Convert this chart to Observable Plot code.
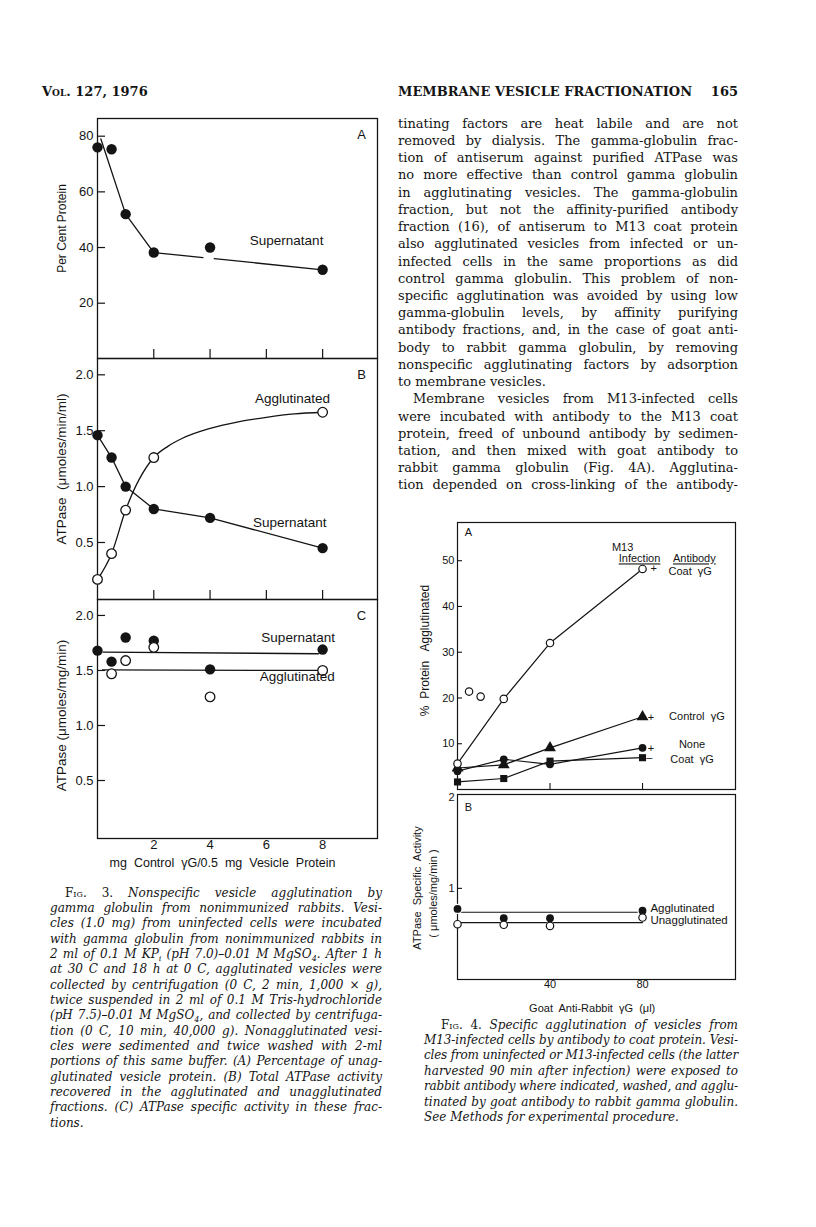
<!DOCTYPE html>
<html><head><meta charset="utf-8">
<script src="https://cdn.jsdelivr.net/npm/d3@7"></script>
<script src="https://cdn.jsdelivr.net/npm/@observablehq/plot@0.6"></script>
<style>
html,body{margin:0;padding:0;background:#fff}
body{width:816px;height:1227px;position:relative;overflow:hidden;color:#141414;font-family:"DejaVu Serif",serif}
.chart{position:absolute}
.line{position:absolute;white-space:nowrap;text-align:justify;text-align-last:justify}
.body{font-size:13px;line-height:17px}
.cap{font-size:12px;line-height:15px;font-style:italic}
.fig{font-style:normal;font-variant:small-caps}
.hdr{position:absolute;white-space:nowrap;font-size:13px;line-height:16px;font-weight:bold}
</style></head><body>
<script>
// ---------- Fig. 3 data ----------
const fig3Doses = [0, 0.5, 1, 2, 4, 8];
const fig3ASupernatant = [76, 75.3, 52, 38.2, 40, 32];
const fig3AFitX = [0.12, 1, 2, 3.75, 4.15, 8];
const fig3AFitY = [79, 52, 38.2, 36.4, 36.0, 32];
const fig3AFitSeg = [0, 0, 0, 0, 1, 1];
const fig3BSupernatant = [1.46, 1.26, 1.0, 0.80, 0.72, 0.45];
const fig3BAggDoses = [0, 0.5, 1, 2, 8];
const fig3BAgglutinated = [0.17, 0.40, 0.79, 1.26, 1.665];
const fig3BAggCurveX = [0, 0.5, 1, 2, 2.5, 3, 4, 5, 6, 7, 8];
const fig3BAggCurveY = [0.17, 0.40, 0.79, 1.26, 1.36, 1.43, 1.52, 1.58, 1.62, 1.65, 1.665];
const fig3CSupernatant = [1.68, 1.58, 1.80, 1.77, 1.51, 1.69];
const fig3CAggDoses = [0.5, 1, 2, 4, 8];
const fig3CAgglutinated = [1.47, 1.59, 1.71, 1.26, 1.50];
const fig3CSupFitX = [0.2, 7.85];
const fig3CSupFitY = [1.667, 1.652];
const fig3CAggFitX = [0.18, 8];
const fig3CAggFitY = [1.505, 1.50];
const fig3XTicks = [2, 4, 6, 8];
const fig3ATicks = [20, 40, 60, 80];
const fig3BCTicks = [0.5, 1.0, 1.5, 2.0];

// ---------- Fig. 4 data ----------
const fig4Doses = [0, 20, 40, 80];
const fig4CoatInfected = [5.65, 19.8, 32.0, 48.2];
const fig4ExtraX = [5, 10];
const fig4ExtraY = [21.4, 20.3];
const fig4ControlInfected = [4.7, 5.4, 9.1, 15.9];
const fig4NoneInfected = [4.0, 6.6, 5.5, 9.1];
const fig4CoatUninfected = [1.65, 2.4, 6.2, 6.95];
const fig4BAgglutinated = [0.774, 0.672, 0.672, 0.755];
const fig4BUnagglutinated = [0.607, 0.600, 0.588, 0.680];
const fig4BLineX = [0, 80];
const fig4BAggLine = [0.738, 0.738];
const fig4BUnaggLine = [0.625, 0.625];
const fig4XTicks = [40, 80];
const fig4ATicks = [10, 20, 30, 40, 50];
const fig4BTicks = [1, 2];

// annotation labels (data units)
const fig3ALabels = [{x: 6.72, y: 42.5, t: "Supernatant"}];
const fig3BLabels = [{x: 6.93, y: 1.785, t: "Agglutinated"}, {x: 6.83, y: 0.68, t: "Supernatant"}];
const fig3CLabels = [{x: 7.13, y: 1.80, t: "Supernatant"}, {x: 7.1, y: 1.44, t: "Agglutinated"}];
const fig4ALabels = [
  {x: 71.4, y: 52.9, t: "M13"}, {x: 78.7, y: 50.4, t: "Infection"}, {x: 102.4, y: 50.4, t: "Antibody"},
  {x: 84.8, y: 48.3, t: "+"}, {x: 100.6, y: 47.6, t: "Coat  γG"},
  {x: 83.6, y: 15.8, t: "+"}, {x: 103.5, y: 15.95, t: "Control  γG"},
  {x: 83.6, y: 9.0, t: "+"}, {x: 101.4, y: 9.8, t: "None"},
  {x: 82.9, y: 6.9, t: "–"}, {x: 101.4, y: 6.6, t: "Coat  γG"}
];
const fig4BLabels = [{x: 83.4, y: 0.78, t: "Agglutinated"}, {x: 83.4, y: 0.65, t: "Unagglutinated"}];

const ink = "#141414";
const sans = "'Liberation Sans', Arial, sans-serif";
const zip = (xs, ys) => xs.map((x, i) => ({x, y: ys[i]}));

function place(svg, left, top) {
  svg.classList.add("chart");
  svg.style.left = left + "px";
  svg.style.top = top + "px";
  document.body.appendChild(svg);
  return svg;
}

// ---------- Fig. 3 panels ----------
function fig3Panel({top, height, mb, yDomain, ticks, fmt, xTicksInside, marks}) {
  const plotH = height - 18 - mb;
  const plotW = 400 - 97 - 23;
  return place(Plot.plot({
    width: 400, height, marginLeft: 97, marginRight: 23, marginTop: 18, marginBottom: mb,
    x: {domain: [0, 9.95], axis: null},
    y: {domain: yDomain, axis: null},
    style: {fontFamily: sans, color: ink, background: "transparent", overflow: "visible"},
    marks: [
      Plot.frame({stroke: ink, strokeWidth: 1.3}),
      Plot.tickY(ticks, {y: d => d, insetRight: plotW - 8, stroke: ink, strokeWidth: 1.2}),
      Plot.axisY(ticks, {label: null, tickSize: 0, tickPadding: 4, tickFormat: fmt, fontSize: 13, fill: ink}),
      xTicksInside ? Plot.tickX(fig3XTicks, {x: d => d, insetTop: plotH - 9, stroke: ink, strokeWidth: 1.2}) : null,
      ...marks
    ]
  }), 0, top);
}

const dotFilled3 = {x: "x", y: "y", r: 5.2, fill: ink};
const dotOpen3 = {x: "x", y: "y", r: 4.8, fill: "white", stroke: ink, strokeWidth: 1.3};
const lbl3 = {x: "x", y: "y", text: "t", fontSize: 13.5, fill: ink};

fig3Panel({
  top: 100, height: 260, mb: 2, yDomain: [0.13, 86.36], ticks: fig3ATicks, fmt: d => String(d), xTicksInside: true,
  marks: [
    Plot.line(fig3AFitX.map((x, i) => ({x, y: fig3AFitY[i], seg: fig3AFitSeg[i]})), {x: "x", y: "y", z: "seg", stroke: ink, strokeWidth: 1.3}),
    Plot.dot(zip(fig3Doses, fig3ASupernatant), dotFilled3),
    Plot.text(fig3ALabels, lbl3),
    Plot.text(["A"], {frameAnchor: "top-right", dx: -16, dy: 16, textAnchor: "middle", lineAnchor: "middle", fontSize: 13, fill: ink}),
    Plot.text(["Per Cent Protein"], {frameAnchor: "left", rotate: -90, dx: -35.6, dy: -10, textAnchor: "middle", lineAnchor: "middle", fontSize: 12, fill: ink})
  ]
});

fig3Panel({
  top: 340, height: 261, mb: 2, yDomain: [-0.01, 2.146], ticks: fig3BCTicks, fmt: d => d.toFixed(1), xTicksInside: true,
  marks: [
    Plot.line(zip(fig3Doses, fig3BSupernatant), {x: "x", y: "y", stroke: ink, strokeWidth: 1.3}),
    Plot.line(zip(fig3BAggCurveX, fig3BAggCurveY), {x: "x", y: "y", curve: "monotone-x", stroke: ink, strokeWidth: 1.3}),
    Plot.dot(zip(fig3Doses, fig3BSupernatant), dotFilled3),
    Plot.dot(zip(fig3BAggDoses, fig3BAgglutinated), dotOpen3),
    Plot.text(fig3BLabels, lbl3),
    Plot.text(["B"], {frameAnchor: "top-right", dx: -16, dy: 16, textAnchor: "middle", lineAnchor: "middle", fontSize: 13, fill: ink}),
    Plot.text(["ATPase  (μmoles/min/ml)"], {frameAnchor: "left", rotate: -90, dx: -35.6, dy: -10, textAnchor: "middle", lineAnchor: "middle", fontSize: 13.5, fill: ink})
  ]
});

fig3Panel({
  top: 581, height: 297, mb: 40, yDomain: [-0.027, 2.145], ticks: fig3BCTicks, fmt: d => d.toFixed(1), xTicksInside: false,
  marks: [
    Plot.line(zip(fig3CSupFitX, fig3CSupFitY), {x: "x", y: "y", stroke: ink, strokeWidth: 1.3}),
    Plot.line(zip(fig3CAggFitX, fig3CAggFitY), {x: "x", y: "y", stroke: ink, strokeWidth: 1.3}),
    Plot.dot(zip(fig3Doses, fig3CSupernatant), dotFilled3),
    Plot.dot(zip(fig3CAggDoses, fig3CAgglutinated), dotOpen3),
    Plot.text(fig3CLabels, lbl3),
    Plot.axisX(fig3XTicks, {label: null, tickSize: 0, tickPadding: 1, fontSize: 13, fill: ink}),
    Plot.text(["C"], {frameAnchor: "top-right", dx: -16, dy: 16, textAnchor: "middle", lineAnchor: "middle", fontSize: 13, fill: ink}),
    Plot.text(["ATPase (μmoles/mg/min)"], {frameAnchor: "left", rotate: -90, dx: -35.6, dy: -3.5, textAnchor: "middle", lineAnchor: "middle", fontSize: 13.5, fill: ink}),
    Plot.text(["mg  Control  γG/0.5  mg  Vesicle  Protein"], {frameAnchor: "bottom", dx: -15, dy: 24, textAnchor: "middle", lineAnchor: "middle", fontSize: 12.5, fill: ink})
  ]
});

// ---------- Fig. 4 panels ----------
const f4PlotW = 416 - 57 - 81;
const lbl4 = {x: "x", y: "y", text: "t", fontSize: 11, fill: ink};

const svg4A = place(Plot.plot({
  width: 416, height: 287, marginLeft: 57, marginRight: 81, marginTop: 17, marginBottom: 3,
  x: {domain: [0, 120.2], axis: null},
  y: {domain: [0, 58.35], axis: null},
  style: {fontFamily: sans, color: ink, background: "transparent", overflow: "visible"},
  marks: [
    Plot.frame({stroke: ink, strokeWidth: 1.2}),
    Plot.tickY(fig4ATicks, {y: d => d, insetRight: f4PlotW - 5, stroke: ink, strokeWidth: 1.1}),
    Plot.axisY(fig4ATicks, {label: null, tickSize: 0, tickPadding: 3, tickFormat: d => String(d), fontSize: 11, fill: ink}),
    Plot.tickX(fig4XTicks, {x: d => d, insetTop: 267 - 6, stroke: ink, strokeWidth: 1.1}),
    Plot.line(zip(fig4Doses, fig4CoatInfected), {x: "x", y: "y", stroke: ink, strokeWidth: 1.2}),
    Plot.line(zip(fig4Doses, fig4ControlInfected), {x: "x", y: "y", stroke: ink, strokeWidth: 1.2}),
    Plot.line(zip(fig4Doses, fig4NoneInfected), {x: "x", y: "y", stroke: ink, strokeWidth: 1.2}),
    Plot.line(zip(fig4Doses, fig4CoatUninfected), {x: "x", y: "y", stroke: ink, strokeWidth: 1.2}),
    Plot.dot(zip(fig4Doses, fig4CoatUninfected), {x: "x", y: "y", symbol: "square", r: 4, fill: ink}),
    Plot.dot(zip(fig4Doses, fig4ControlInfected), {x: "x", y: "y", symbol: "triangle", r: 4.4, fill: ink}),
    Plot.dot(zip(fig4Doses, fig4NoneInfected), {x: "x", y: "y", r: 3.9, fill: ink}),
    Plot.dot(zip(fig4Doses, fig4CoatInfected), {x: "x", y: "y", r: 3.7, fill: "white", stroke: ink, strokeWidth: 1.2}),
    Plot.dot(zip(fig4ExtraX, fig4ExtraY), {x: "x", y: "y", r: 3.7, fill: "white", stroke: ink, strokeWidth: 1.2}),
    Plot.text(fig4ALabels, lbl4),
    Plot.text(["A"], {frameAnchor: "top-left", dx: 11, dy: 10, textAnchor: "middle", lineAnchor: "middle", fontSize: 11, fill: ink}),
    Plot.text(["%  Protein   Agglutinated"], {frameAnchor: "left", rotate: -90, dx: -32, dy: -5.5, textAnchor: "middle", lineAnchor: "middle", fontSize: 12, fill: ink})
  ]
}), 400, 505);
d3.select(svg4A).selectAll("text").filter(function () {
  return this.textContent === "Infection" || this.textContent === "Antibody";
}).style("text-decoration", "underline");

place(Plot.plot({
  width: 416, height: 242, marginLeft: 57, marginRight: 81, marginTop: 17, marginBottom: 40,
  x: {domain: [0, 120.2], axis: null},
  y: {domain: [0, 2.03], axis: null},
  style: {fontFamily: sans, color: ink, background: "transparent", overflow: "visible"},
  marks: [
    Plot.frame({stroke: ink, strokeWidth: 1.2}),
    Plot.tickY([1], {y: d => d, insetRight: f4PlotW - 5, stroke: ink, strokeWidth: 1.1}),
    Plot.axisY(fig4BTicks, {label: null, tickSize: 0, tickPadding: 3, tickFormat: d => String(d), fontSize: 11, fill: ink}),
    Plot.axisX(fig4XTicks, {label: null, tickSize: 0, tickPadding: 1, tickFormat: d => String(d), fontSize: 11, fill: ink}),
    Plot.line(zip(fig4BLineX, fig4BAggLine), {x: "x", y: "y", stroke: ink, strokeWidth: 1.2}),
    Plot.line(zip(fig4BLineX, fig4BUnaggLine), {x: "x", y: "y", stroke: ink, strokeWidth: 1.2}),
    Plot.dot(zip(fig4Doses, fig4BAgglutinated), {x: "x", y: "y", r: 3.9, fill: ink, stroke: "white", strokeWidth: 2.5, paintOrder: "stroke"}),
    Plot.dot(zip(fig4Doses, fig4BUnagglutinated), {x: "x", y: "y", r: 3.7, fill: "white", stroke: ink, strokeWidth: 1.2}),
    Plot.text(fig4BLabels, {...lbl4, textAnchor: "start", fontSize: 11.5}),
    Plot.text(["B"], {frameAnchor: "top-left", dx: 11, dy: 13, textAnchor: "middle", lineAnchor: "middle", fontSize: 11, fill: ink}),
    Plot.text(["ATPase  Specific  Activity"], {frameAnchor: "left", rotate: -90, dx: -40.3, dy: 1, textAnchor: "middle", lineAnchor: "middle", fontSize: 11, fill: ink}),
    Plot.text(["( μmoles/mg/min )"], {frameAnchor: "left", rotate: -90, dx: -24.5, dy: 6.5, textAnchor: "middle", lineAnchor: "middle", fontSize: 11, fill: ink}),
    Plot.text(["Goat  Anti-Rabbit  γG  (μl)"], {frameAnchor: "bottom", dx: -4.3, dy: 28.7, textAnchor: "middle", lineAnchor: "middle", fontSize: 11, fill: ink})
  ]
}), 400, 777);

// ---------- Page text ----------
function addLine(html, x, yc, w, cls, justify, lh) {
  const d = document.createElement("div");
  d.className = "line " + cls;
  d.style.left = x + "px";
  d.style.top = (yc - lh / 2) + "px";
  d.style.width = w + "px";
  const s = document.createElement("span");
  s.innerHTML = html;
  d.appendChild(s);
  document.body.appendChild(d);
  const nat = s.getBoundingClientRect().width;
  const n = s.textContent.length;
  if (nat > w) d.style.letterSpacing = ((w - nat) / n - 0.02) + "px";
  if (!justify) { d.style.textAlignLast = "left"; d.style.textAlign = "left"; }
}
function addHdr(html, x, yc, anchorRight) {
  const d = document.createElement("div");
  d.className = "hdr";
  d.innerHTML = html;
  d.style.top = (yc - 8) + "px";
  if (anchorRight) d.style.right = (816 - x) + "px"; else d.style.left = x + "px";
  document.body.appendChild(d);
}
addHdr('<span style="font-variant:small-caps">Vol.</span> 127, 1976', 42, 92, false);
addHdr('MEMBRANE VESICLE FRACTIONATION', 398, 92, false);
addHdr('165', 738, 92, true);

const bodyLines = [
  "tinating factors are heat labile and are not",
  "removed by dialysis. The gamma-globulin frac-",
  "tion of antiserum against purified ATPase was",
  "no more effective than control gamma globulin",
  "in agglutinating vesicles. The gamma-globulin",
  "fraction, but not the affinity-purified antibody",
  "fraction (16), of antiserum to M13 coat protein",
  "also agglutinated vesicles from infected or un-",
  "infected cells in the same proportions as did",
  "control gamma globulin. This problem of non-",
  "specific agglutination was avoided by using low",
  "gamma-globulin levels, by affinity purifying",
  "antibody fractions, and, in the case of goat anti-",
  "body to rabbit gamma globulin, by removing",
  "nonspecific agglutinating factors by adsorption",
  "to membrane vesicles.",
  "Membrane vesicles from M13-infected cells",
  "were incubated with antibody to the M13 coat",
  "protein, freed of unbound antibody by sedimen-",
  "tation, and then mixed with goat antibody to",
  "rabbit gamma globulin (Fig. 4A). Agglutina-",
  "tion depended on cross-linking of the antibody-"
];
bodyLines.forEach((t, i) => {
  const indent = i === 16 ? 15 : 0;
  addLine(t, 398 + indent, 123.3 + i * 17.22, 340 - indent, "body", i !== 15, 17);
});

const cap3 = [
  '<span class="fig">Fig. 3.</span> Nonspecific vesicle agglutination by',
  "gamma globulin from nonimmunized rabbits. Vesi-",
  "cles (1.0 mg) from uninfected cells were incubated",
  "with gamma globulin from nonimmunized rabbits in",
  "2 ml of 0.1 M KP<sub style=\"font-size:8px\">i</sub> (pH 7.0)–0.01 M MgSO<sub style=\"font-size:8px\">4</sub>. After 1 h",
  "at 30 C and 18 h at 0 C, agglutinated vesicles were",
  "collected by centrifugation (0 C, 2 min, 1,000 × g),",
  "twice suspended in 2 ml of 0.1 M Tris-hydrochloride",
  "(pH 7.5)–0.01 M MgSO<sub style=\"font-size:8px\">4</sub>, and collected by centrifuga-",
  "tion (0 C, 10 min, 40,000  g). Nonagglutinated vesi-",
  "cles were sedimented and twice washed with 2-ml",
  "portions of this same buffer. (A) Percentage of unag-",
  "glutinated vesicle protein. (B) Total ATPase activity",
  "recovered in the agglutinated and unagglutinated",
  "fractions. (C) ATPase specific activity in these frac-",
  "tions."
];
cap3.forEach((t, i) => {
  const indent = i === 0 ? 15 : 0;
  addLine(t, 50 + indent, 893.3 + i * 15.33, 332 - indent, "cap", i !== cap3.length - 1, 15);
});

const cap4 = [
  '<span class="fig">Fig. 4.</span> Specific agglutination of vesicles from',
  "M13-infected cells by antibody to coat protein. Vesi-",
  "cles from uninfected or M13-infected cells (the latter",
  "harvested 90 min after infection) were exposed to",
  "rabbit antibody where indicated, washed, and agglu-",
  "tinated by goat antibody to rabbit gamma globulin.",
  "See Methods for experimental procedure."
];
cap4.forEach((t, i) => {
  const indent = i === 0 ? 17 : 0;
  addLine(t, 424 + indent, 1025 + i * 15.4, 314 - indent, "cap", i !== cap4.length - 1, 15);
});
</script>
</body></html>
